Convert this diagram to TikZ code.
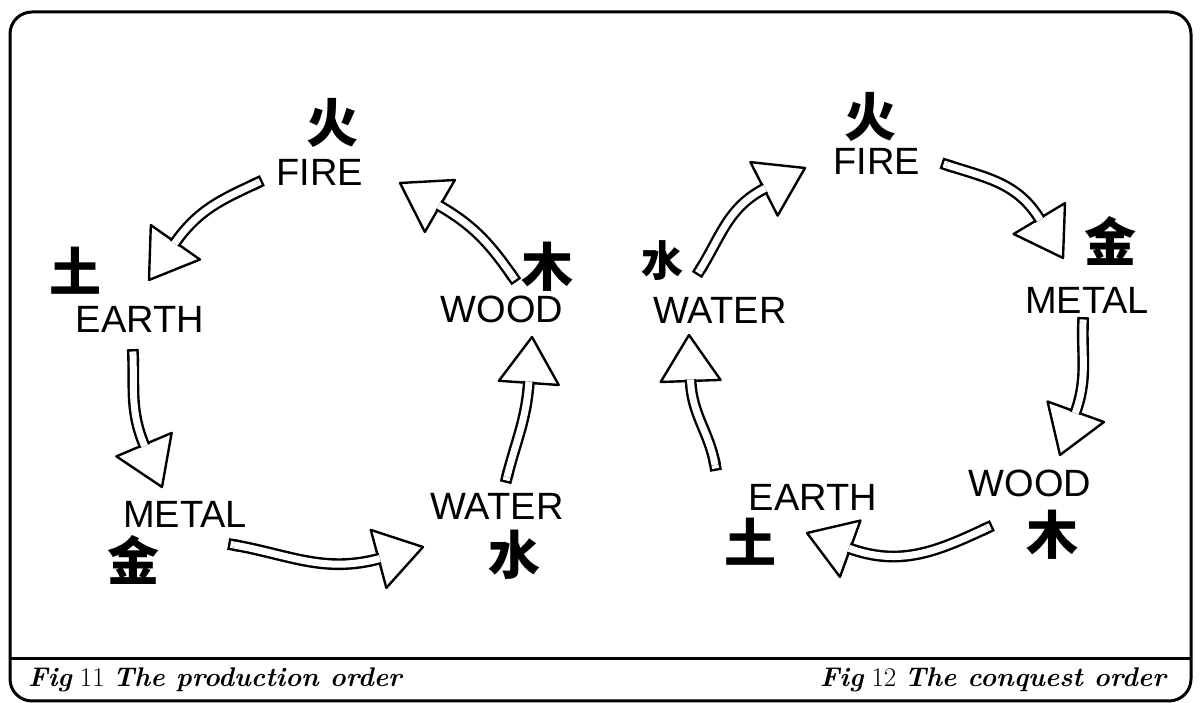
\documentclass[tikz,border=0pt]{standalone}
\usepackage{fontspec}
\usetikzlibrary{calc}
\newfontfamily\elemfont{Liberation Sans}
\newfontfamily\cjk{Noto Sans CJK SC}
\tikzset{
  every node/.style={inner sep=0pt},
  element/.style={font=\elemfont\fontsize{38}{40}\selectfont},
  glyph/.style={font=\cjk\bfseries\fontsize{52}{54}\selectfont},
  caption/.style={font=\fontsize{27}{29}\selectfont},
  frame/.style={draw=black,line width=3pt,rounded corners=22pt},
  arrowshaft/.style={draw=black,line width=2.4pt,double=white,double distance=7pt},
  arrowhead/.style={draw=black,fill=white,line width=2.4pt,line join=round},
}
% open hand-drawn arrow: tail, leaving angle, arriving angle, tip
\newcommand{\openarrow}[4]{%
  \coordinate (oa-base) at ($(#4)+(#3:46)$);
  \filldraw[arrowhead] (#4) -- ($(oa-base)!30pt!90:(#4)$) -- ($(oa-base)!30pt!-90:(#4)$) -- cycle;
  \draw[arrowshaft,line cap=rect] (#1) -- ++(#2:.1);
  \draw[arrowshaft,shorten >=-1.5pt] (#1) to[out=#2,in=#3] (oa-base);
}

\begin{document}
\begin{tikzpicture}[x=1pt,y=1pt]
\path[use as bounding box] (0,0) rectangle (1200,703);
\draw[frame] (10,2) rectangle (1191,691);
\draw[frame] (10,44) -- (1191,44);

% Fig 11: production order
\node[glyph] (lfirezi) at (332,580) {火};
\node[element] (lfire) at (320,531) {FIRE};
\node[glyph] (learthzi) at (75,432) {土};
\node[element] (learth) at (140,384) {EARTH};
\node[element] (lmetal) at (185,189) {METAL};
\node[glyph] (lmetalzi) at (133,143) {金};
\node[element] (lwater) at (497,197) {WATER};
\node[glyph] (lwaterzi) at (514,148) {水};
\node[glyph] (lwoodzi) at (547,436) {木};
\node[element] (lwood) at (502,394) {WOOD};

\coordinate (lfe-a) at (257,520);  \coordinate (lfe-b) at (149,423);
\coordinate (lem-a) at (133,348);  \coordinate (lem-b) at (162,216);
\coordinate (lmw-a) at (234,158);  \coordinate (lmw-b) at (423,156);
\coordinate (lww-a) at (507,226);  \coordinate (lww-b) at (532,366);
\coordinate (lwf-a) at (513,426);  \coordinate (lwf-b) at (400,520);
\openarrow{lfe-a}{205}{55}{lfe-b}
\openarrow{lem-a}{272}{113}{lem-b}
\openarrow{lmw-a}{350}{195}{lmw-b}
\openarrow{lww-a}{76}{266}{lww-b}
\openarrow{lwf-a}{125}{330}{lwf-b}

% Fig 12: conquest order
\node[glyph] (rfirezi) at (870,586) {火};
\node[element] (rfire) at (877,542) {FIRE};
\node[glyph] (rmetalzi) at (1110,462) {金};
\node[element] (rmetal) at (1087,403) {METAL};
\node[glyph,font=\cjk\bfseries\fontsize{42}{44}\selectfont] (rwaterzi) at (662,442) {水};
\node[element] (rwater) at (720,393) {WATER};
\node[element] (rwood) at (1030,220) {WOOD};
\node[glyph] (rwoodzi) at (1052,168) {木};
\node[element] (rearth) at (813,206) {EARTH};
\node[glyph] (rearthzi) at (750,161) {土};

\coordinate (rwf-a) at (700,433);  \coordinate (rwf-b) at (805,535);
\coordinate (rfm-a) at (947,538);  \coordinate (rfm-b) at (1063,445);
\coordinate (rmw-a) at (1083,380); \coordinate (rmw-b) at (1060,248);
\coordinate (rwe-a) at (987,175);  \coordinate (rwe-b) at (807,170);
\coordinate (rew-a) at (715,238);  \coordinate (rew-b) at (689,368);
\openarrow{rwf-a}{58}{207}{rwf-b}
\openarrow{rfm-a}{342}{121}{rfm-b}
\openarrow{rmw-a}{268}{70}{rmw-b}
\openarrow{rwe-a}{205}{340}{rwe-b}
\openarrow{rew-a}{100}{272}{rew-b}

\node[caption,anchor=west] (capl) at (28,23) {{\bfseries\itshape Fig} 11 {\bfseries\itshape The production order}};
\node[caption,anchor=east] (capr) at (1166,23) {{\bfseries\itshape Fig} 12 {\bfseries\itshape The conquest order}};
\end{tikzpicture}
\end{document}
